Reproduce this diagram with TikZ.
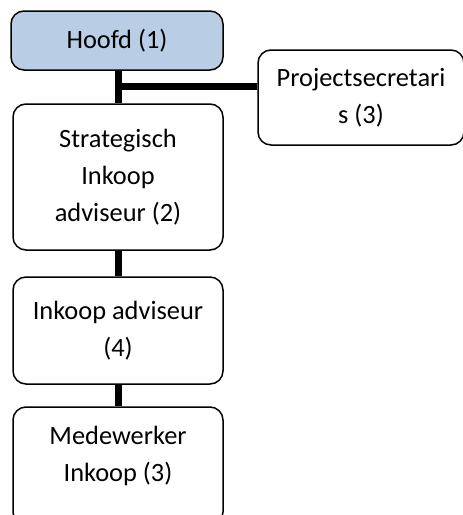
\documentclass[tikz,border=0pt]{standalone}
\usepackage{fontspec}
\setmainfont{Carlito}
\definecolor{headblue}{HTML}{B9CDE5}
\begin{document}
\begin{tikzpicture}[x=1pt,y=-1pt,
  orgbox/.style={draw=black, line width=1.5pt, rounded corners=13pt, fill=white,
    align=center, inner sep=0pt, font=\fontsize{26.4}{37}\selectfont},
  orgtext/.style={align=center, inner sep=0pt, font=\fontsize{26.4}{37}\selectfont},
  link/.style={line width=7pt}]
\useasboundingbox (0,0) rectangle (463,515);
\clip (0,0) rectangle (463,515);
\node[orgbox, fill=headblue, minimum width=212pt, minimum height=59pt] (hoofd) at (117,40.5) {Hoofd (1)};
\node[orgbox, minimum width=206pt, minimum height=95pt] (proj) at (361,97.5) {Projectsecretari\\s (3)};
\node[orgbox, minimum width=210pt, minimum height=146pt] (strat) at (118,177) {Strategisch\\Inkoop\\adviseur (2)};
\node[orgbox, minimum width=210pt, minimum height=107pt] (ink) at (118,330.5) {Inkoop adviseur\\(4)};
\node[orgbox, minimum width=210pt, minimum height=118pt] (mede) at (118,466) {};
\node[orgtext] (medetext) at (118,456) {Medewerker\\Inkoop (3)};
\coordinate (split) at (118,86);
\draw[link] (hoofd.south -| split) -- (strat.north -| split);
\draw[link] (split) -- (split -| proj.west);
\draw[link] (strat.south) -- (ink.north);
\draw[link] (ink.south) -- (mede.north);
\end{tikzpicture}
\end{document}
